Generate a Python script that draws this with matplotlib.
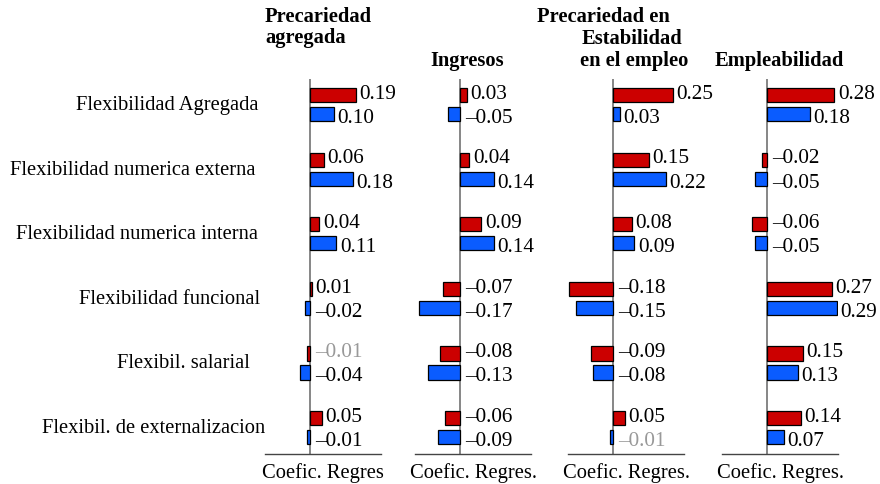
import matplotlib
matplotlib.use('Agg')
import matplotlib.pyplot as plt
import matplotlib.transforms as mtransforms
import numpy as np

plt.rcParams['font.family'] = ['Liberation Serif', 'DejaVu Serif']

categories = ['Flexibilidad Agregada', 'Flexibilidad numerica externa',
              'Flexibilidad numerica interna', 'Flexibilidad funcional',
              'Flexibil. salarial', 'Flexibil. de externalizacion']
titles = ['Precariedad\nagregada', 'Ingresos',
          'Precariedad en\nEstabilidad\nen el empleo', 'Empleabilidad']
xlabels = ['Coefic. Regres', 'Coefic. Regres.', 'Coefic. Regres.', 'Coefic. Regres.']

red_vals = [[0.19, 0.06, 0.04, 0.01, -0.01, 0.05],
            [0.03, 0.04, 0.09, -0.07, -0.08, -0.06],
            [0.25, 0.15, 0.08, -0.18, -0.09, 0.05],
            [0.28, -0.02, -0.06, 0.27, 0.15, 0.14]]
blue_vals = [[0.10, 0.18, 0.11, -0.02, -0.04, -0.01],
             [-0.05, 0.14, 0.14, -0.17, -0.13, -0.09],
             [0.03, 0.22, 0.09, -0.15, -0.08, -0.01],
             [0.18, -0.05, -0.05, 0.29, 0.13, 0.07]]
# labels drawn in grey (panel, series, row)
grey_labels = [(0, 'red', 4), (2, 'blue', 5)]

RED = '#cc0000'
BLUE = '#0a5cff'
FS = 14.8
FS_VAL = 15.3

W, H = 880, 485
fig = plt.figure(figsize=(W / 100, H / 100), dpi=100)

lefts = [265, 415, 568, 722]
ax_w = 116
ax_top, ax_bot = 80, 455
# right edge (px) of each category label, as in the original
label_right = [258, 255, 258, 260, 250, 265]

y = np.arange(len(categories))
off = 0.147
bh = 0.22

def fmt(v):
    return f'{v:.2f}'.replace('-', '\u2013')

axes = []
for p in range(4):
    ax = fig.add_axes([lefts[p] / W, 1 - ax_bot / H, ax_w / W, (ax_bot - ax_top) / H])
    axes.append(ax)
    ax.barh(y - off, red_vals[p], height=bh, color=RED, edgecolor='black', linewidth=0.9)
    ax.barh(y + off, blue_vals[p], height=bh, color=BLUE, edgecolor='black', linewidth=0.9)
    ax.set_xlim(-0.185, 0.295)
    ax.set_ylim(5.41, -0.395)
    ax.axvline(0, color='#666666', lw=1.1, zorder=0)
    for s in ['left', 'right', 'top']:
        ax.spines[s].set_visible(False)
    ax.spines['bottom'].set_color('#444444')
    ax.spines['bottom'].set_linewidth(1.0)
    ax.set_xticks([])
    ax.set_yticks([])
    ax.set_xlabel(xlabels[p], fontsize=FS, labelpad=6)

    for series, vals, dy in [('red', red_vals[p], -0.175), ('blue', blue_vals[p], 0.2)]:
        for i, v in enumerate(vals):
            x0 = v if v > 0 else 0
            dx = 2.5 if v > 0 else 4
            col = '#999999' if (p, series, i) in grey_labels else 'black'
            ax.annotate(fmt(v), (x0, i + dy), xytext=(dx, 0), textcoords='offset points',
                        ha='left', va='center', fontsize=FS_VAL, color=col)

trans = mtransforms.blended_transform_factory(fig.transFigure, axes[0].transData)
for i, c in enumerate(categories):
    fig.text(label_right[i] / W, i, c, transform=trans, ha='right', va='center', fontsize=FS)

fig.text(265 / W, 1 - 7 / H, titles[0], ha='left', va='top', fontsize=FS,
         fontweight='bold', linespacing=1.05)
fig.text(430 / W, 1 - 51 / H, titles[1], ha='left', va='top', fontsize=FS,
         fontweight='bold')
# third title: lines individually placed as in the original
t3 = titles[2].split('\n')
fig.text(670 / W, 1 - 7 / H, t3[0], ha='right', va='top', fontsize=FS, fontweight='bold')
fig.text(682 / W, 1 - 29 / H, t3[1], ha='right', va='top', fontsize=FS, fontweight='bold')
fig.text(688 / W, 1 - 51 / H, t3[2], ha='right', va='top', fontsize=FS, fontweight='bold')
fig.text(715 / W, 1 - 51 / H, titles[3], ha='left', va='top', fontsize=FS,
         fontweight='bold')

fig.savefig('out.png', dpi=100)
